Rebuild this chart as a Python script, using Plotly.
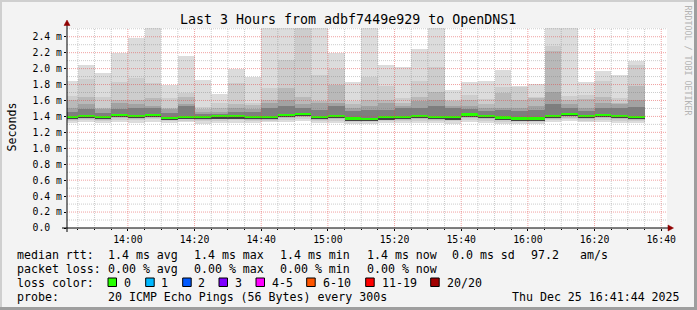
import plotly.graph_objects as go
import pandas as pd

# ---------------- data (values in milliseconds) ----------------
bar_times = pd.date_range("2025-12-25 13:42:30", periods=35, freq="5min")

rtt_max = [1.85, 2.04, 1.95, 2.20, 2.39, 2.60, 1.79, 2.16, 1.86, 1.685,
           1.99, 1.90, 2.60, 2.60, 2.60, 2.60, 2.20, 1.83, 2.60, 2.04,
           2.02, 2.24, 2.60, 1.735, 1.83, 1.84, 1.98, 1.785, 1.81, 2.60,
           2.60, 1.83, 1.965, 1.92, 2.10]
rtt_p90 = [1.66, 1.87, 1.65, 1.83, 1.88, 1.82, 1.63, 1.69, 1.52, 1.57,
           1.82, 1.57, 1.76, 2.11, 2.60, 1.92, 1.99, 1.59, 1.90, 1.785,
           1.63, 1.84, 2.02, 1.61, 1.67, 1.62, 1.77, 1.77, 1.65, 2.28,
           1.66, 1.67, 1.84, 1.63, 2.05]
rtt_p75 = [1.61, 1.65, 1.51, 1.61, 1.61, 1.63, 1.51, 1.64, 1.49, 1.51,
           1.55, 1.54, 1.61, 1.76, 1.65, 1.59, 1.80, 1.55, 1.61, 1.61,
           1.57, 1.65, 1.71, 1.59, 1.60, 1.55, 1.70, 1.60, 1.63, 2.22,
           1.61, 1.62, 1.65, 1.57, 1.785]
rtt_p60 = [1.51, 1.55, 1.49, 1.57, 1.55, 1.53, 1.49, 1.55, 1.46, 1.46,
           1.51, 1.49, 1.57, 1.61, 1.55, 1.57, 1.57, 1.51, 1.53, 1.57,
           1.53, 1.59, 1.61, 1.53, 1.53, 1.50, 1.51, 1.51, 1.53, 1.71,
           1.55, 1.51, 1.57, 1.55, 1.61]
rtt_p55 = [1.46, 1.49, 1.44, 1.49, 1.50, 1.50, 1.44, 1.53, 1.43, 1.43,
           1.46, 1.45, 1.51, 1.53, 1.51, 1.48, 1.53, 1.47, 1.48, 1.48,
           1.50, 1.51, 1.53, 1.50, 1.49, 1.47, 1.48, 1.47, 1.48, 1.55,
           1.50, 1.47, 1.51, 1.50, 1.52]
rtt_median = [1.393, 1.406, 1.396, 1.418, 1.408, 1.419, 1.383, 1.396, 1.396, 1.403,
              1.405, 1.395, 1.392, 1.420, 1.432, 1.393, 1.405, 1.373, 1.370, 1.390,
              1.393, 1.406, 1.393, 1.391, 1.424, 1.407, 1.386, 1.376, 1.376, 1.407,
              1.428, 1.405, 1.420, 1.407, 1.395]
rtt_p40 = [1.368, 1.380, 1.370, 1.392, 1.383, 1.392, 1.360, 1.372, 1.370, 1.378,
           1.380, 1.370, 1.368, 1.393, 1.405, 1.368, 1.378, 1.350, 1.348, 1.366,
           1.368, 1.380, 1.368, 1.366, 1.396, 1.380, 1.362, 1.352, 1.352, 1.380,
           1.400, 1.378, 1.392, 1.380, 1.370]
rtt_p25 = [1.358, 1.368, 1.360, 1.378, 1.370, 1.380, 1.350, 1.362, 1.356, 1.365,
           1.368, 1.358, 1.358, 1.378, 1.388, 1.356, 1.362, 1.340, 1.338, 1.352,
           1.356, 1.365, 1.355, 1.354, 1.380, 1.366, 1.350, 1.342, 1.340, 1.366,
           1.385, 1.364, 1.378, 1.366, 1.356]
rtt_p10 = [1.345, 1.352, 1.342, 1.360, 1.352, 1.362, 1.338, 1.348, 1.340, 1.348,
           1.350, 1.342, 1.346, 1.360, 1.368, 1.340, 1.345, 1.328, 1.325, 1.338,
           1.342, 1.348, 1.340, 1.340, 1.360, 1.348, 1.335, 1.330, 1.326, 1.350,
           1.365, 1.348, 1.360, 1.348, 1.340]
rtt_min = [1.318, 1.325, 1.312, 1.330, 1.322, 1.330, 1.320, 1.326, 1.305, 1.318,
           1.322, 1.315, 1.330, 1.335, 1.340, 1.312, 1.318, 1.302, 1.308, 1.318,
           1.320, 1.322, 1.315, 1.310, 1.335, 1.318, 1.300, 1.305, 1.300, 1.325,
           1.340, 1.325, 1.332, 1.320, 1.312]

y_tick_vals = [0.0, 0.2, 0.4, 0.6, 0.8, 1.0, 1.2, 1.4, 1.6, 1.8, 2.0, 2.2, 2.4]
y_tick_text = ["0.0\u00a0\u00a0", "0.2 m", "0.4 m", "0.6 m", "0.8 m", "1.0 m", "1.2 m",
               "1.4 m", "1.6 m", "1.8 m", "2.0 m", "2.2 m", "2.4 m"]

loss_labels = ["0", "1", "2", "3", "4-5", "6-10", "11-19", "20/20"]
loss_colors = ["#26ff00", "#00b8ff", "#0059ff", "#7e00ff", "#ff00ff", "#ff5500", "#ff0000", "#a10000"]

title_text = "Last 3 Hours from adbf7449e929 to OpenDNS1"
t_start = "2025-12-25 13:41:44"
t_end = "2025-12-25 16:41:44"

# ---------------- geometry helpers ----------------
W, H = 697, 310
L, R, T, B = 67, 30, 28, 82
PW, PH = W - L - R, H - T - B


def px_x(x):
    return (x - L) / PW


def px_y(y):
    return (H - B - y) / PH


MONO = "DejaVu Sans Mono"
fig = go.Figure()

layers = [
    (rtt_min, rtt_max, "#dcdcdc"),
    (rtt_p10, rtt_p90, "#cdcdcd"),
    (rtt_p25, rtt_p75, "#b9b9b9"),
    (rtt_p40, rtt_p60, "#a2a2a2"),
    (rtt_p40, rtt_p55, "#7e7e7e"),
    (rtt_p40, rtt_median, "#424242"),
]
for lo, hi, col in layers:
    fig.add_trace(go.Bar(
        x=bar_times, base=lo, y=[h - l for h, l in zip(hi, lo)],
        width=300000, marker=dict(color=col, line=dict(width=0)),
        hoverinfo="skip"))

# median line (green, 0 loss)
fig.add_trace(go.Bar(
    x=bar_times, base=[m - 0.015 for m in rtt_median], y=[0.03] * len(rtt_median),
    width=300000, marker=dict(color=loss_colors[0], line=dict(width=0)),
    hoverinfo="skip"))

shapes = []
# grid (drawn above smoke, as rrdtool does)
for t in pd.date_range("2025-12-25 13:45", "2025-12-25 16:40", freq="5min"):
    major = t.minute % 20 == 0
    shapes.append(dict(type="line", xref="x", yref="paper", x0=t, x1=t, y0=0, y1=1,
                       layer="above",
                       line=dict(color="rgba(225,70,70,0.5)" if major else "rgba(120,120,120,0.38)",
                                 width=1, dash="1px,1px")))
for i in range(1, 26):
    v = i / 10
    major = i % 2 == 0
    shapes.append(dict(type="line", xref="paper", yref="y", x0=0, x1=1, y0=v, y1=v,
                       layer="above",
                       line=dict(color="rgba(225,70,70,0.5)" if major else "rgba(120,120,120,0.38)",
                                 width=1, dash="1px,1px")))

# axis lines
shapes.append(dict(type="line", xref="paper", yref="paper", x0=px_x(62), x1=px_x(669),
                   y0=0, y1=0, line=dict(color="#000000", width=1), layer="above"))
shapes.append(dict(type="line", xref="paper", yref="paper", x0=0, x1=0,
                   y0=px_y(232), y1=px_y(24), line=dict(color="#000000", width=1), layer="above"))
# arrows
shapes.append(dict(type="path", xref="paper", yref="paper", layer="above",
                   path=f"M {px_x(64)},{px_y(25.5)} L {px_x(70)},{px_y(25.5)} L {px_x(67)},{px_y(20)} Z",
                   fillcolor="#900000", line=dict(color="#900000", width=0.5)))
shapes.append(dict(type="path", xref="paper", yref="paper", layer="above",
                   path=f"M {px_x(668)},{px_y(225)} L {px_x(668)},{px_y(231)} L {px_x(673.5)},{px_y(228)} Z",
                   fillcolor="#900000", line=dict(color="#900000", width=0.5)))

# canvas shading
shapes.append(dict(type="rect", xref="paper", yref="paper", x0=px_x(0), x1=px_x(W), y0=px_y(0), y1=px_y(2),
                   fillcolor="#cfcfcf", line=dict(width=0), layer="below"))
shapes.append(dict(type="rect", xref="paper", yref="paper", x0=px_x(0), x1=px_x(2), y0=px_y(0), y1=px_y(H),
                   fillcolor="#cfcfcf", line=dict(width=0), layer="below"))
shapes.append(dict(type="rect", xref="paper", yref="paper", x0=px_x(694), x1=px_x(W), y0=px_y(0), y1=px_y(H),
                   fillcolor="#9e9e9e", line=dict(width=0), layer="below"))
shapes.append(dict(type="rect", xref="paper", yref="paper", x0=px_x(0), x1=px_x(W), y0=px_y(307), y1=px_y(H),
                   fillcolor="#9e9e9e", line=dict(width=0), layer="below"))

annotations = []


def txt(x, y, s, size=11.6, anchor="left", color="#000000", angle=0):
    annotations.append(dict(xref="paper", yref="paper", x=px_x(x), y=px_y(y), text=s,
                            showarrow=False, xanchor=anchor, yanchor="middle", textangle=angle,
                            borderpad=0, font=dict(family=MONO, size=size, color=color)))


txt(348, 19, title_text, size=13.3, anchor="center")
txt(11, 127.5, "Seconds", size=11.6, anchor="center", angle=-90)
txt(687.5, 60, "RRDTOOL / TOBI OETIKER", size=8.3, anchor="center", angle=90, color="#b4b4b4")

row1, row2, row3, row4 = 254.5, 268.5, 282.5, 296.5
txt(16, row1, "median rtt:")
for xx, s in zip([106.7, 193, 279, 365.7, 451, 530, 579.3],
                 ["1.4 ms avg", "1.4 ms max", "1.4 ms min", "1.4 ms now", "0.0 ms sd", "97.2", "am/s"]):
    txt(xx, row1, s)
txt(16, row2, "packet loss:")
for xx, s in zip([106.7, 193, 279, 365.7],
                 ["0.00 % avg", "0.00 % max", "0.00 % min", "0.00 % now"]):
    txt(xx, row2, s)
txt(16, row3, "loss color:")
sq_x = [108, 145.7, 182.7, 219, 256, 306.7, 365.7, 430.7]
lab_x = [123, 160, 197, 234, 270.7, 321.7, 380.7, 445.7]
for sx, lx, lab, col in zip(sq_x, lab_x, loss_labels, loss_colors):
    shapes.append(dict(type="rect", xref="paper", yref="paper",
                       x0=px_x(sx), x1=px_x(sx + 8.5), y0=px_y(278), y1=px_y(286.5),
                       fillcolor=col, line=dict(color="#000000", width=1)))
    txt(lx, row3, lab)
txt(16, row4, "probe:")
txt(106.7, row4, "20 ICMP Echo Pings (56 Bytes) every 300s")
txt(681, row4, "Thu Dec 25 16:41:44 2025", anchor="right")

fig.update_layout(
    width=W, height=H,
    margin=dict(l=L, r=R, t=T, b=B, pad=0),
    paper_bgcolor="#f3f3f3", plot_bgcolor="#ffffff",
    barmode="overlay", bargap=0, showlegend=False,
    font=dict(family=MONO, size=10, color="#000000"),
    shapes=shapes, annotations=annotations,
)
fig.update_xaxes(
    type="date", range=[t_start, t_end], showgrid=False, zeroline=False, showline=False,
    tickmode="linear", tick0="2025-12-25 14:00:00", dtick=1200000, tickformat="%H:%M",
    ticks="outside", ticklen=2, tickcolor="#000000", tickfont=dict(family=MONO, size=9.8),
    minor=dict(ticks="outside", ticklen=1, dtick=300000, tick0="2025-12-25 14:00:00",
               tickcolor="#000000", showgrid=False),
    fixedrange=True,
)
fig.update_yaxes(
    range=[0, PH / 79.7], showgrid=False, zeroline=False, showline=False,
    tickmode="array", tickvals=y_tick_vals, ticktext=y_tick_text,
    ticks="outside", ticklen=2, tickcolor="#000000", tickfont=dict(family=MONO, size=9.8),
    fixedrange=True,
)

fig.write_html("out.html")
